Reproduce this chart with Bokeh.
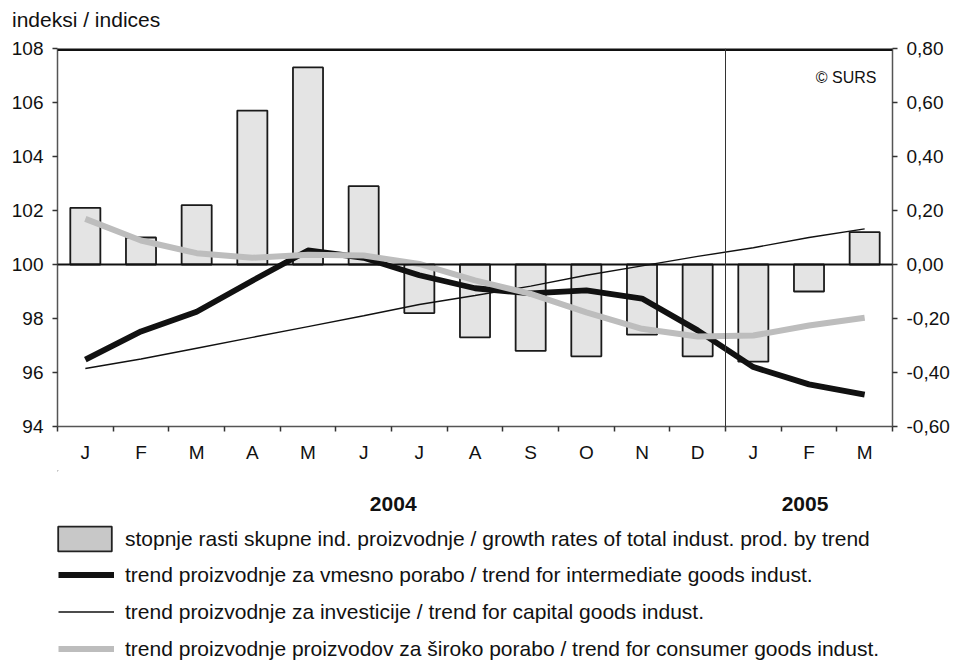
from bokeh.plotting import figure
from bokeh.layouts import column
from bokeh.models import (Range1d, LinearAxis, FixedTicker, CustomJSTickFormatter,
                          Span, Label, Legend, LegendItem, Div)
from bokeh.core.properties import value
from bokeh.embed import file_html
from bokeh.resources import INLINE

# ---------------- data ----------------
months = ["J", "F", "M", "A", "M", "J", "J", "A", "S", "O", "N", "D", "J", "F", "M"]
years = ["2004", "2005"]
growth = [0.21, 0.10, 0.22, 0.57, 0.73, 0.29, -0.18, -0.27, -0.32, -0.34, -0.26, -0.34, -0.36, -0.10, 0.12]
intermediate = [96.48, 97.52, 98.25, 99.40, 100.52, 100.25, 99.60, 99.12, 98.93, 99.04, 98.74, 97.56, 96.20, 95.56, 95.18]
capital = [96.15, 96.50, 96.90, 97.30, 97.70, 98.10, 98.52, 98.85, 99.20, 99.60, 99.95, 100.30, 100.62, 101.00, 101.32]
consumer = [101.69, 100.89, 100.42, 100.25, 100.36, 100.33, 100.02, 99.41, 98.91, 98.23, 97.62, 97.33, 97.37, 97.74, 98.03]
left_ticks = [94, 96, 98, 100, 102, 104, 106, 108]
right_ticks = [-0.6, -0.4, -0.2, 0.0, 0.2, 0.4, 0.6, 0.8]
legend_labels = [
    "stopnje rasti skupne ind. proizvodnje / growth rates of total indust. prod. by trend",
    "trend proizvodnje za vmesno porabo / trend for intermediate goods indust.",
    "trend proizvodnje za investicije / trend for capital goods indust.",
    "trend proizvodnje proizvodov za široko porabo / trend for consumer goods indust.",
]
y_title = "indeksi / indices"
source_note = "© SURS"

n = len(months)
xc = [i + 0.5 for i in range(n)]
bounds = list(range(n + 1))

FONT = "Liberation Sans"
W = 955
H_HEAD = 30
H_TOP = 440
H_BOT = 192
FRAME_L, FRAME_R = 57, 892
FRAME_T, FRAME_B = 48, 426

# styles
BAR_FILL = "#e4e4e4"
BAR_LINE = "#1a1a1a"
INT_STYLE = dict(line_color="#111111", line_width=5.8, line_join="round")
CAP_STYLE = dict(line_color="#111111", line_width=1.4)
CON_STYLE = dict(line_color="#bdbdbd", line_width=6, line_join="round")

# ================= heading =================
head = Div(text=y_title, width=W, height=H_HEAD, margin=(0, 0, 0, 0),
           styles={"font-family": FONT, "font-size": "21px", "line-height": "24px",
                   "color": "#111111", "padding-left": "12px", "padding-top": "8px",
                   "box-sizing": "border-box", "white-space": "nowrap"})

# ================= main chart =================
p = figure(width=W, height=H_TOP, x_range=Range1d(0, n), y_range=Range1d(94, 108),
           output_backend="svg", toolbar_location=None,
           min_border_left=FRAME_L, min_border_right=W - FRAME_R,
           min_border_top=FRAME_T - H_HEAD,
           min_border_bottom=H_HEAD + H_TOP - FRAME_B,
           background_fill_color="white", border_fill_color="white")
p.title.text = ""
p.outline_line_color = None
p.grid.visible = False
p.extra_y_ranges = {"right": Range1d(-0.6, 0.8)}

# left axis
ya = p.yaxis[0]
ya.ticker = FixedTicker(ticks=left_ticks, minor_ticks=[])
ya.axis_line_color = "#555555"
ya.axis_line_width = 1.5
ya.major_tick_line_color = "#333333"
ya.major_tick_line_width = 1.5
ya.major_tick_in = 0
ya.major_tick_out = 5
ya.minor_tick_line_color = None
ya.major_label_standoff = 9
ya.major_label_text_font = FONT
ya.major_label_text_font_size = "19px"
ya.major_label_text_color = "#111111"

# right axis
ra = LinearAxis(y_range_name="right",
                ticker=FixedTicker(ticks=right_ticks, minor_ticks=[]),
                formatter=CustomJSTickFormatter(code="return tick.toFixed(2).replace('.', ',')"))
ra.axis_line_color = "#555555"
ra.axis_line_width = 1.5
ra.major_tick_line_color = "#333333"
ra.major_tick_line_width = 1.5
ra.major_tick_in = 0
ra.major_tick_out = 5
ra.minor_tick_line_color = None
ra.major_label_standoff = 9
ra.major_label_text_font = FONT
ra.major_label_text_font_size = "19px"
ra.major_label_text_color = "#111111"
p.add_layout(ra, "right")

# bottom axis: labels at month centres, ticks at month boundaries
xa = p.xaxis[0]
xa.ticker = FixedTicker(ticks=xc, minor_ticks=bounds)
xa.formatter = CustomJSTickFormatter(args=dict(m=months), code="return m[Math.floor(tick)]")
xa.axis_line_color = "#555555"
xa.axis_line_width = 1.5
xa.major_tick_line_color = None
xa.major_tick_in = 0
xa.major_tick_out = 0
xa.minor_tick_line_color = "#333333"
xa.minor_tick_line_width = 1.5
xa.minor_tick_in = 0
xa.minor_tick_out = 5
xa.major_label_standoff = 10
xa.major_label_text_font = FONT
xa.major_label_text_font_size = "19px"
xa.major_label_text_color = "#111111"

# bars (right axis)
p.vbar(x=xc, top=growth, bottom=0, width=0.54, y_range_name="right",
       fill_color=BAR_FILL, line_color=BAR_LINE, line_width=1.8)

# top border, zero line and year separator
p.add_layout(Span(location=108, dimension="width", line_color="#111111", line_width=5))
p.add_layout(Span(location=100, dimension="width", line_color="#111111", line_width=2))
p.add_layout(Span(location=12, dimension="height", line_color="#333333", line_width=1))

# lines
p.line(xc, capital, **CAP_STYLE)
p.line(xc, intermediate, **INT_STYLE)
p.line(xc, consumer, **CON_STYLE)

p.add_layout(Label(x=14.712, y=106.944, text=source_note, text_font=FONT, text_font_size="16px",
                   text_color="#111111", text_baseline="alphabetic", text_align="right"))

# ================= years + legend (frame aligned with the chart's) =================
Y0 = H_HEAD + H_TOP
q = figure(width=W, height=H_BOT, x_range=Range1d(FRAME_L, FRAME_R),
           y_range=Range1d(Y0 + H_BOT, Y0),
           output_backend="svg", toolbar_location=None,
           x_axis_type=None, y_axis_type=None,
           min_border_left=FRAME_L, min_border_right=W - FRAME_R, min_border_top=0, min_border_bottom=0,
           background_fill_color="white", border_fill_color="white")
q.outline_line_color = None
q.grid.visible = False

q.text(x=[392.7, 804.5], y=[503.3, 503.3], text=years, text_font=value(FONT),
       text_font_size="21px", text_font_style="bold", text_color="#111111",
       text_align="center", text_baseline="alphabetic")

# legend proxies (placed off-frame)
d_bar = q.vbar(x=[-1000], top=[0], bottom=[-1], width=1, fill_color="#c8c8c8",
               line_color="#222222", line_width=1.8)
d_int = q.line(x=[-1000, -999], y=[0, 0], **INT_STYLE)
d_cap = q.line(x=[-1000, -999], y=[0, 0], **CAP_STYLE)
d_con = q.line(x=[-1000, -999], y=[0, 0], **CON_STYLE)

leg_common = dict(padding=0, margin=0, border_line_color=None, background_fill_alpha=0,
                  label_text_font=FONT, label_text_font_size="21px", label_text_color="#111111")
leg1 = Legend(items=[LegendItem(label=legend_labels[0], renderers=[d_bar])],
              location=(-6, 108), glyph_width=67, glyph_height=31, label_height=31,
              label_standoff=7, spacing=0, **leg_common)
leg2 = Legend(items=[LegendItem(label=legend_labels[1], renderers=[d_int]),
                     LegendItem(label=legend_labels[2], renderers=[d_cap]),
                     LegendItem(label=legend_labels[3], renderers=[d_con])],
              location=(1, 1), glyph_width=56, glyph_height=25, label_height=25,
              label_standoff=11, spacing=12, **leg_common)
q.add_layout(leg1)
q.add_layout(leg2)

layout = column(head, p, q, spacing=0)
open("out.html", "w").write(file_html(layout, INLINE))
